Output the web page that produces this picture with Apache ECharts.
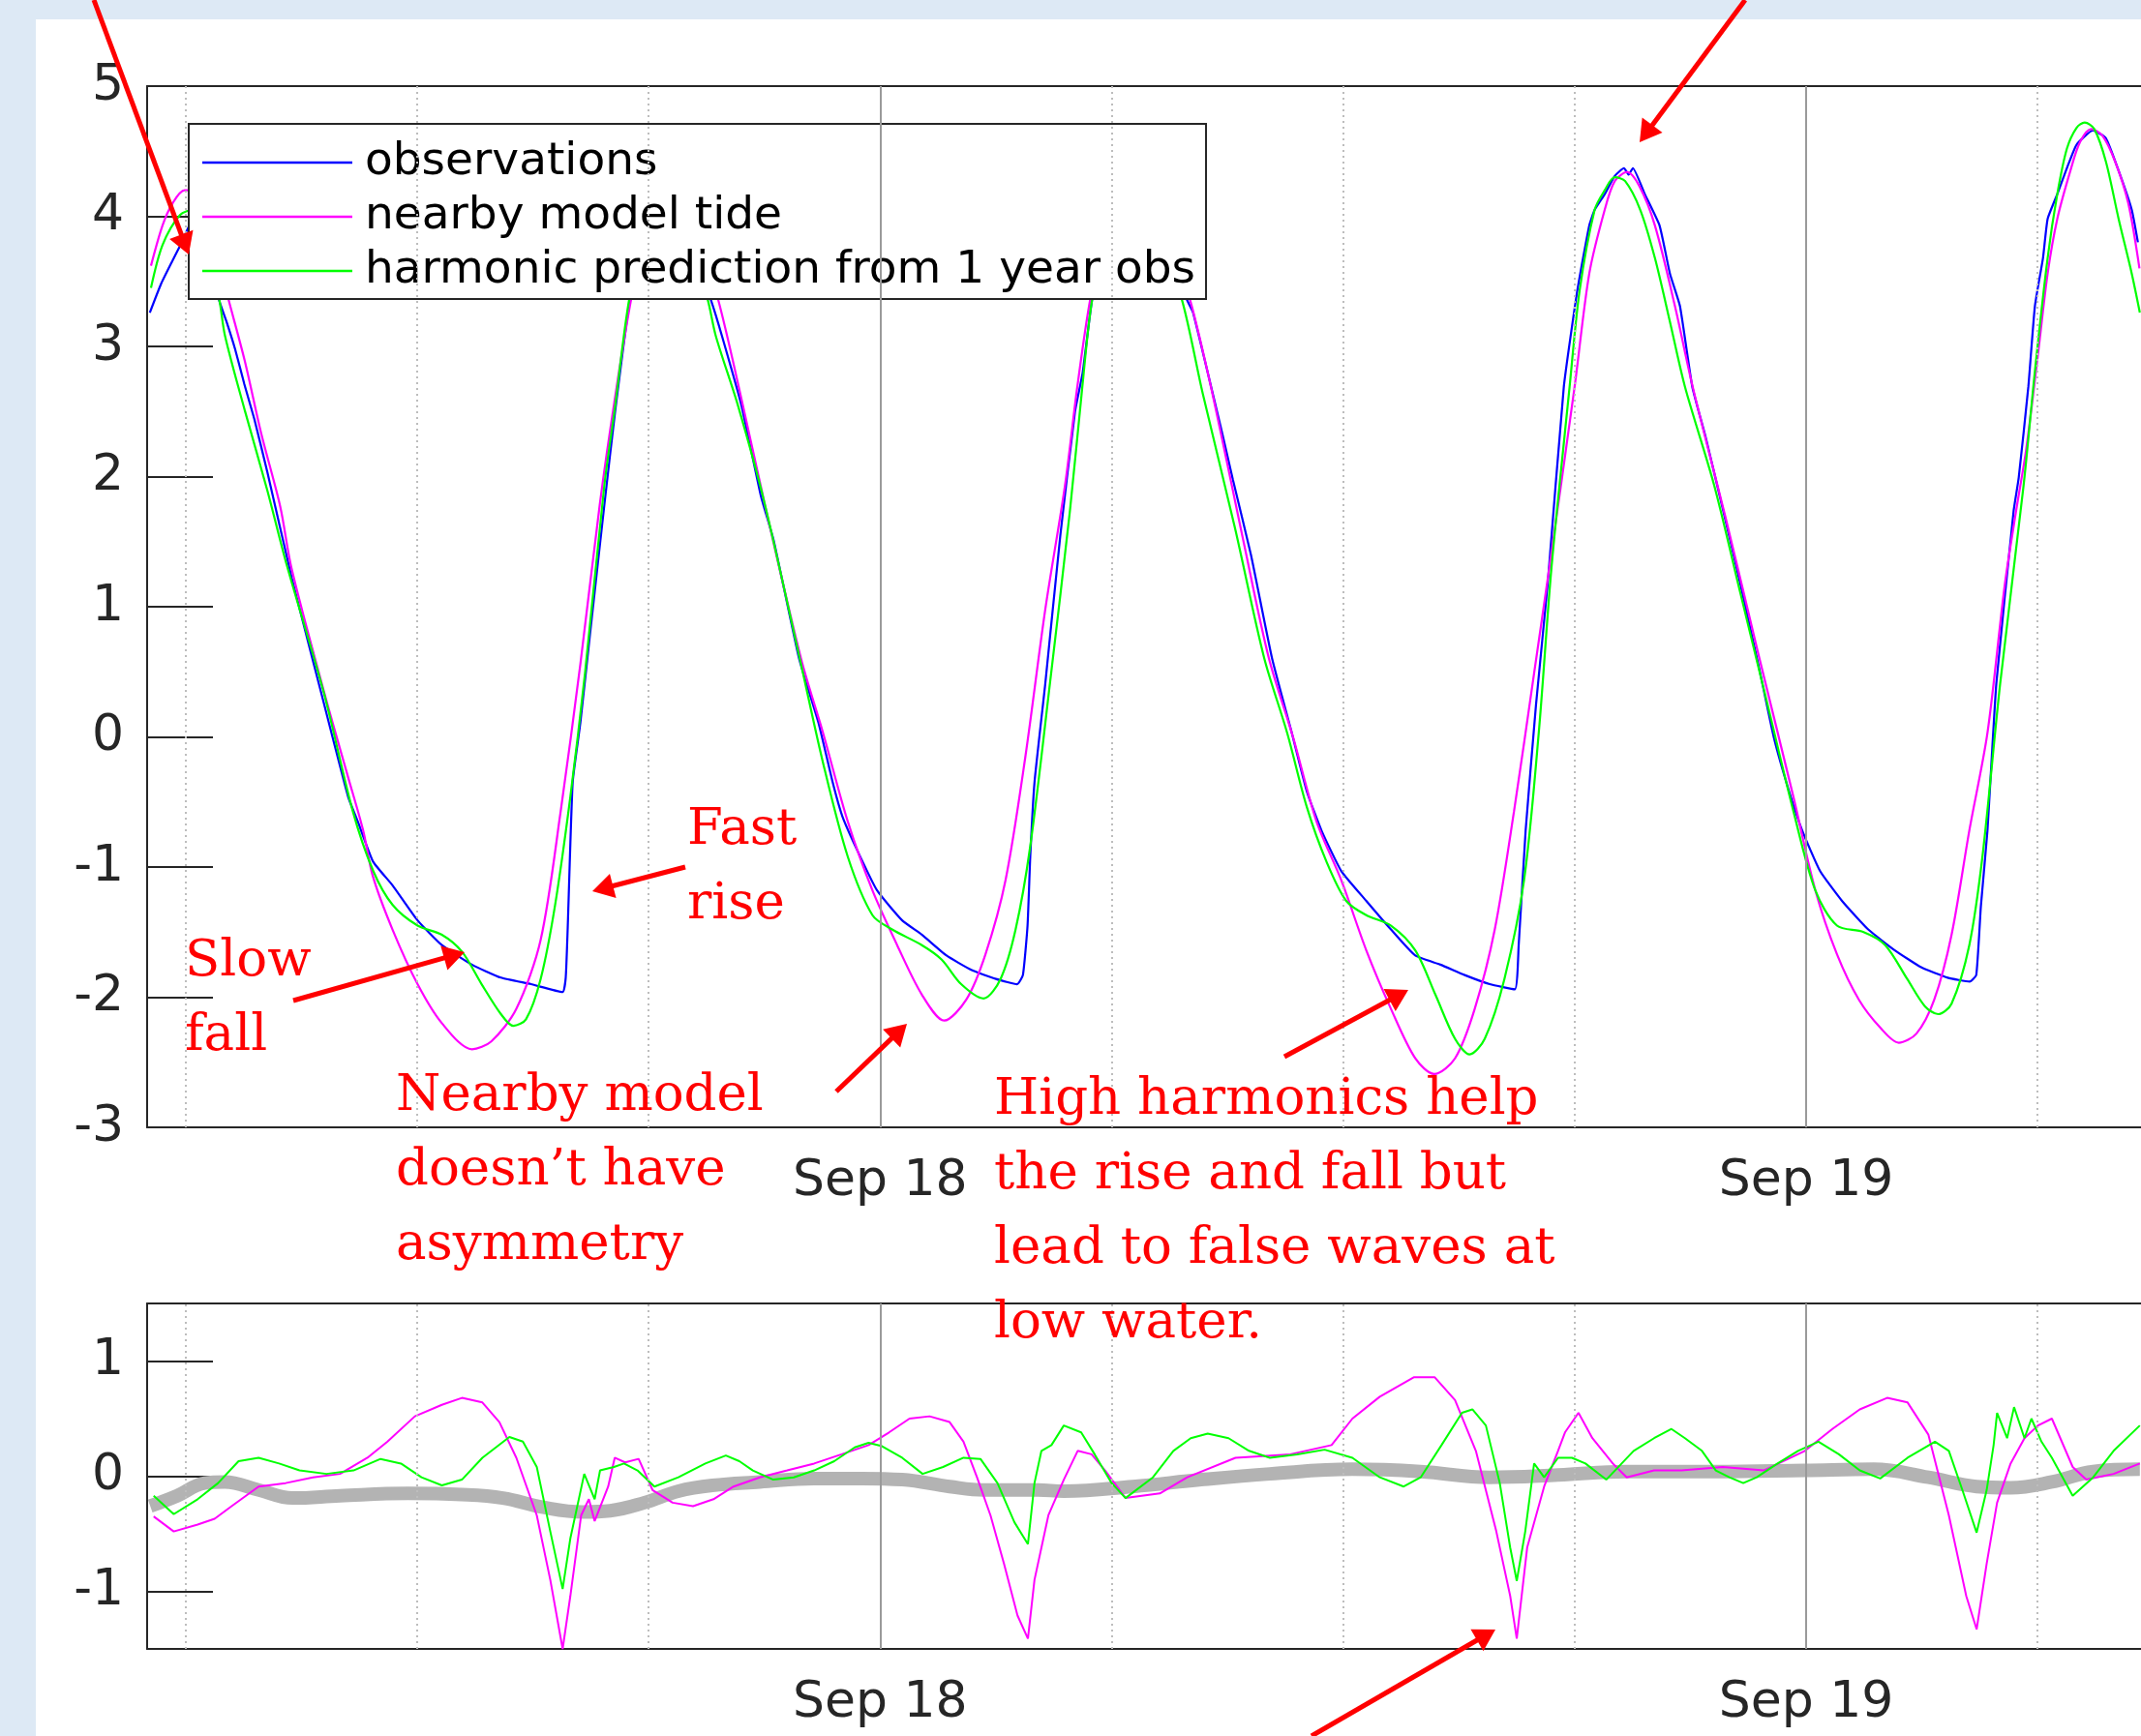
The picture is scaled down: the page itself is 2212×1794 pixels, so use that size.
<!DOCTYPE html>
<html><head><meta charset="utf-8">
<script src="https://cdn.jsdelivr.net/npm/echarts@6/dist/echarts.min.js"></script>
<style>html,body{margin:0;padding:0;background:#fff}#c{width:2212px;height:1794px}</style>
</head><body><div id="c"></div>
<script>
// x values: hours since Sep 17 00:00
const xTickValues = [24, 48];
const xTickLabels = ['Sep 18', 'Sep 19'];
const minorGridHours = [6, 12, 18, 30, 36, 42, 54];
const majorGridHours = [24, 48];
const topYTicks = [-3, -2, -1, 0, 1, 2, 3, 4, 5];
const bottomYTicks = [-1, 0, 1];
const seriesNames = ['observations', 'nearby model tide', 'harmonic prediction from 1 year obs'];

const obsTop = [[5.07,3.26],[5.36,3.48],[5.66,3.66],[5.9,3.8],[6.15,3.95],[6.45,3.9],[6.7,3.6],[6.86,3.36],[7.07,3.18],[7.28,2.98],[7.52,2.71],[7.78,2.44],[8.12,2.03],[8.75,1.22],[9.58,0.26],[10.21,-0.46],[10.46,-0.65],[10.86,-0.96],[11.36,-1.14],[12.01,-1.41],[12.64,-1.6],[13.42,-1.75],[14.17,-1.85],[14.95,-1.9],[15.77,-1.96],[15.85,-1.85],[15.9,-1.48],[16.03,-0.35],[16.23,0.11],[16.48,0.79],[16.85,1.78],[17.13,2.5],[17.52,3.37],[17.9,3.9],[18.4,4.1],[18.9,3.95],[19.3,3.6],[19.61,3.36],[19.9,3.08],[20.41,2.54],[20.91,1.85],[21.24,1.51],[21.9,0.6],[22.4,0.11],[22.77,-0.35],[23.02,-0.61],[23.42,-0.88],[23.92,-1.18],[24.57,-1.41],[25.08,-1.52],[25.72,-1.68],[26.36,-1.79],[27.0,-1.86],[27.55,-1.9],[27.7,-1.83],[27.82,-1.45],[27.89,-0.92],[28.0,-0.35],[28.28,0.41],[28.67,1.55],[29.05,2.5],[29.25,2.8],[29.5,3.37],[30.0,3.95],[30.6,4.15],[31.1,4.05],[31.6,3.7],[31.95,3.36],[32.11,3.26],[32.86,2.34],[33.14,1.98],[33.61,1.4],[34.16,0.6],[34.67,0.03],[35.06,-0.42],[35.44,-0.72],[35.95,-1.03],[36.6,-1.26],[37.24,-1.48],[37.87,-1.68],[38.52,-1.75],[39.15,-1.83],[39.8,-1.9],[40.45,-1.94],[40.55,-1.6],[40.73,-0.72],[41.0,0.25],[41.3,1.17],[41.72,2.69],[42.07,3.43],[42.38,3.93],[42.52,4.05],[42.78,4.17],[43.04,4.31],[43.28,4.37],[43.4,4.32],[43.51,4.37],[43.82,4.17],[44.2,3.93],[44.47,3.56],[44.73,3.31],[45.05,2.69],[45.39,2.31],[45.85,1.74],[46.3,1.17],[46.76,0.56],[47.16,0.0],[47.56,-0.42],[47.9,-0.72],[48.36,-1.03],[48.93,-1.26],[49.61,-1.48],[50.3,-1.64],[50.98,-1.77],[51.67,-1.85],[52.24,-1.88],[52.41,-1.83],[52.53,-1.3],[52.7,-0.72],[52.93,0.41],[53.38,1.74],[53.51,1.99],[53.76,2.69],[53.93,3.31],[54.14,3.68],[54.26,3.98],[54.51,4.17],[54.76,4.37],[55.01,4.55],[55.43,4.66],[55.77,4.6],[56.1,4.35],[56.44,4.05],[56.6,3.8]];

const modelTop = [[5.1,3.62],[5.4,3.93],[5.66,4.1],[5.97,4.2],[6.3,4.2],[6.6,3.95],[6.9,3.6],[7.11,3.36],[7.53,2.89],[7.95,2.34],[8.45,1.77],[8.74,1.3],[9.6,0.33],[10.2,-0.3],[10.6,-0.72],[10.85,-1.07],[11.36,-1.48],[12.01,-1.9],[12.64,-2.2],[13.42,-2.4],[13.92,-2.34],[14.57,-2.09],[15.2,-1.56],[15.72,-0.57],[16.23,0.56],[16.73,1.78],[17.13,2.61],[17.55,3.37],[18.0,3.95],[18.5,4.15],[19.0,4.0],[19.45,3.65],[19.8,3.36],[20.41,2.59],[21.0,1.8],[21.95,0.6],[22.52,0.03],[23.16,-0.65],[23.8,-1.18],[24.44,-1.6],[25.08,-1.98],[25.66,-2.18],[26.23,-2.02],[26.73,-1.67],[27.25,-1.1],[27.76,-0.16],[28.28,0.98],[28.79,1.93],[29.11,2.69],[29.45,3.37],[29.9,3.95],[30.5,4.15],[31.1,4.05],[31.6,3.7],[32.03,3.36],[32.61,2.64],[33.44,1.47],[34.07,0.61],[34.7,0.0],[35.31,-0.65],[35.95,-1.1],[36.6,-1.64],[37.24,-2.09],[37.87,-2.47],[38.36,-2.59],[38.9,-2.47],[39.41,-2.09],[39.93,-1.48],[40.43,-0.57],[40.95,0.49],[41.32,1.25],[42.0,2.69],[42.38,3.56],[42.78,4.05],[43.04,4.27],[43.36,4.34],[43.68,4.23],[44.08,3.93],[44.6,3.31],[45.06,2.69],[45.9,1.7],[46.76,0.64],[47.67,-0.46],[48.24,-1.18],[48.8,-1.67],[49.37,-2.02],[49.94,-2.24],[50.4,-2.35],[50.86,-2.28],[51.32,-2.02],[51.77,-1.52],[52.23,-0.72],[52.7,0.03],[53.15,1.17],[53.45,1.75],[53.7,2.2],[54.01,2.94],[54.26,3.56],[54.51,3.98],[54.85,4.35],[55.1,4.57],[55.39,4.67],[55.68,4.62],[56.01,4.42],[56.35,4.1],[56.64,3.6]];

const harmTop = [[5.1,3.45],[5.4,3.78],[5.85,4.01],[6.2,4.05],[6.5,3.85],[6.87,3.36],[7.02,3.08],[7.53,2.51],[8.11,1.9],[8.62,1.32],[9.58,0.34],[10.33,-0.57],[10.86,-1.03],[11.36,-1.29],[12.01,-1.45],[12.64,-1.52],[13.16,-1.65],[13.67,-1.9],[14.17,-2.13],[14.49,-2.22],[14.82,-2.17],[15.2,-1.86],[15.57,-1.3],[15.97,-0.46],[16.35,0.49],[16.85,1.93],[17.13,2.54],[17.5,3.37],[18.0,4.0],[18.4,4.1],[18.9,3.9],[19.25,3.6],[19.53,3.36],[19.74,3.08],[20.32,2.54],[21.0,1.8],[21.91,0.61],[22.52,-0.2],[23.16,-0.92],[23.8,-1.37],[24.31,-1.48],[25.08,-1.6],[25.59,-1.71],[26.1,-1.9],[26.68,-2.01],[27.12,-1.86],[27.51,-1.48],[27.89,-0.84],[28.4,0.41],[28.92,1.74],[29.24,2.69],[29.5,3.37],[30.0,4.0],[30.5,4.1],[31.0,3.9],[31.45,3.6],[31.82,3.36],[32.36,2.64],[33.2,1.6],[33.95,0.61],[34.55,0.03],[35.06,-0.54],[35.57,-0.96],[36.08,-1.26],[36.6,-1.37],[37.24,-1.45],[37.87,-1.64],[38.39,-1.98],[38.9,-2.32],[39.28,-2.44],[39.67,-2.32],[40.18,-1.86],[40.69,-1.1],[41.07,0.03],[41.4,1.3],[41.87,2.69],[42.13,3.43],[42.52,4.05],[42.78,4.2],[43.04,4.3],[43.31,4.27],[43.7,4.05],[44.08,3.68],[44.47,3.19],[44.86,2.69],[45.62,1.93],[46.3,1.1],[46.99,0.26],[47.67,-0.57],[48.24,-1.18],[48.8,-1.45],[49.49,-1.5],[50.05,-1.6],[50.62,-1.86],[51.08,-2.07],[51.42,-2.13],[51.77,-2.05],[52.23,-1.6],[52.57,-0.92],[53.03,0.41],[53.64,1.94],[53.93,2.81],[54.26,3.68],[54.51,4.17],[54.76,4.52],[55.01,4.68],[55.22,4.72],[55.47,4.67],[55.77,4.42],[56.1,3.98],[56.44,3.56],[56.65,3.26]];

const modelResid = [[5.17,-0.35],[5.69,-0.48],[6.31,-0.42],[6.75,-0.37],[7.19,-0.26],[7.89,-0.09],[8.59,-0.06],[9.3,-0.01],[10.0,0.02],[10.71,0.16],[11.23,0.3],[11.94,0.52],[12.64,0.62],[13.16,0.68],[13.69,0.64],[14.13,0.47],[14.57,0.16],[15.1,-0.34],[15.45,-0.9],[15.77,-1.5],[15.97,-1.04],[16.25,-0.34],[16.45,-0.2],[16.6,-0.39],[16.95,-0.09],[17.12,0.16],[17.39,0.12],[17.74,0.15],[18.1,-0.12],[18.62,-0.23],[19.15,-0.26],[19.68,-0.2],[20.2,-0.09],[20.88,-0.01],[21.59,0.05],[22.29,0.11],[23.0,0.19],[23.7,0.27],[24.23,0.38],[24.76,0.5],[25.28,0.52],[25.8,0.47],[26.16,0.3],[26.51,-0.01],[26.86,-0.34],[27.21,-0.76],[27.56,-1.21],[27.83,-1.41],[28.0,-0.9],[28.36,-0.34],[28.76,-0.03],[29.12,0.22],[29.48,0.19],[29.83,0.05],[30.36,-0.19],[31.25,-0.15],[31.96,-0.01],[33.21,0.16],[34.63,0.19],[35.7,0.27],[36.24,0.5],[36.95,0.69],[37.84,0.86],[38.37,0.86],[38.9,0.66],[39.44,0.22],[39.97,-0.48],[40.33,-1.04],[40.5,-1.41],[40.77,-0.62],[41.21,-0.09],[41.57,0.22],[41.75,0.38],[42.1,0.55],[42.46,0.33],[42.99,0.11],[43.35,-0.01],[44.06,0.05],[44.77,0.05],[45.84,0.08],[46.9,0.05],[47.97,0.22],[48.68,0.41],[49.39,0.58],[50.1,0.68],[50.63,0.64],[51.17,0.36],[51.7,-0.34],[52.15,-1.04],[52.42,-1.33],[52.68,-0.76],[52.95,-0.23],[53.3,0.11],[53.66,0.33],[54.01,0.44],[54.37,0.5],[54.91,0.08],[55.26,-0.03],[55.97,0.02],[56.65,0.11]];

const harmResid = [[5.17,-0.17],[5.69,-0.33],[6.31,-0.2],[6.84,-0.06],[7.37,0.13],[7.89,0.16],[8.42,0.11],[8.95,0.05],[9.65,0.02],[10.35,0.05],[11.05,0.15],[11.58,0.11],[12.11,-0.01],[12.64,-0.08],[13.16,-0.03],[13.69,0.16],[14.39,0.34],[14.74,0.3],[15.1,0.08],[15.45,-0.48],[15.77,-0.98],[15.97,-0.54],[16.33,0.02],[16.6,-0.2],[16.74,0.05],[17.1,0.08],[17.36,0.11],[17.71,0.05],[18.15,-0.09],[18.77,-0.01],[19.47,0.11],[20.0,0.18],[20.35,0.13],[20.7,0.05],[21.23,-0.03],[21.76,-0.01],[22.29,0.05],[22.81,0.13],[23.34,0.25],[23.7,0.29],[24.05,0.26],[24.57,0.16],[25.1,0.02],[25.63,0.08],[26.16,0.16],[26.6,0.15],[27.04,-0.06],[27.48,-0.4],[27.83,-0.59],[28.0,-0.06],[28.18,0.22],[28.44,0.27],[28.76,0.44],[29.21,0.38],[29.56,0.19],[30.0,-0.06],[30.36,-0.19],[31.07,-0.01],[31.6,0.22],[32.05,0.33],[32.49,0.37],[33.03,0.33],[33.56,0.22],[34.1,0.16],[34.81,0.19],[35.52,0.23],[36.24,0.16],[36.95,-0.01],[37.57,-0.09],[38.01,-0.01],[38.55,0.27],[39.08,0.55],[39.35,0.58],[39.7,0.44],[40.06,-0.06],[40.33,-0.62],[40.5,-0.91],[40.72,-0.48],[40.95,0.11],[41.21,-0.01],[41.57,0.16],[41.93,0.16],[42.28,0.11],[42.82,-0.03],[43.53,0.22],[44.06,0.33],[44.51,0.41],[44.86,0.33],[45.3,0.22],[45.66,0.05],[46.01,-0.01],[46.37,-0.06],[46.72,-0.01],[47.26,0.11],[47.79,0.22],[48.32,0.3],[48.85,0.19],[49.39,0.05],[49.92,-0.02],[50.63,0.16],[51.34,0.3],[51.7,0.22],[52.05,-0.12],[52.42,-0.49],[52.68,-0.12],[52.86,0.27],[52.95,0.55],[53.21,0.33],[53.39,0.6],[53.66,0.33],[53.84,0.5],[54.1,0.3],[54.37,0.16],[54.91,-0.17],[55.44,-0.01],[55.97,0.22],[56.65,0.44]];

const surgeResid = [[5.08,-0.26],[5.78,-0.17],[6.49,-0.06],[7.01,-0.05],[7.89,-0.12],[8.77,-0.19],[10.0,-0.17],[11.76,-0.15],[13.16,-0.16],[14.22,-0.19],[15.27,-0.27],[16.3,-0.31],[17.0,-0.3],[17.89,-0.23],[18.77,-0.13],[19.65,-0.08],[20.88,-0.05],[22.29,-0.02],[23.52,-0.02],[24.57,-0.03],[25.8,-0.09],[26.69,-0.12],[28.09,-0.12],[28.76,-0.13],[30.55,-0.09],[32.32,-0.03],[34.1,0.02],[36.24,0.06],[38.01,0.04],[39.79,-0.01],[41.57,0.01],[43.35,0.04],[45.66,0.04],[47.97,0.05],[49.75,0.06],[51.17,-0.01],[52.42,-0.09],[53.3,-0.1],[54.37,-0.05],[55.44,0.04],[56.65,0.06]];

// annotation texts and arrows (page pixels)
const noteBlocks = [
  {x: 191, base: 1013, lines: ['Slow', 'fall']},
  {x: 710, base: 877, lines: ['Fast', 'rise']},
  {x: 409, base: 1152, lines: ['Nearby model', 'doesn\u2019t have', 'asymmetry']},
  {x: 1027, base: 1156, lines: ['High harmonics help', 'the rise and fall but', 'lead to false waves at', 'low water.']}
];
const arrows = [
  [97, 0, 195, 263], [1803, 0, 1694, 147], [708, 896, 612, 921], [303, 1034, 480, 984],
  [864, 1128, 937, 1058], [1327, 1092, 1455, 1023], [1355, 1794, 1545, 1684]
];

const AX = '#262626';
const FONT = 'DejaVu Sans';
const X_MIN = 5, X_MAX = 56.68;
const GRID_LEFT = 152;

function xAxisDef(gridIndex, pos, labels) {
  return {
    type: 'value', gridIndex, position: pos, min: X_MIN, max: X_MAX,
    axisLine: {show: true, onZero: false, lineStyle: {color: AX, width: 2}},
    axisTick: {show: true, inside: true, length: 64, customValues: xTickValues, lineStyle: {color: AX, width: 2}},
    axisLabel: labels ? {show: true, customValues: xTickValues, margin: 30, fontSize: 52, fontFamily: FONT, color: AX,
      formatter: v => xTickLabels[xTickValues.indexOf(v)] || ''} : {show: false},
    splitLine: {show: false}
  };
}
function yAxisDef(gridIndex, min, max, ticks) {
  return {
    type: 'value', gridIndex, min, max, position: 'left',
    axisLine: {show: true, onZero: false, lineStyle: {color: AX, width: 2}},
    axisTick: {show: true, inside: true, length: 68, customValues: ticks, lineStyle: {color: AX, width: 2}},
    axisLabel: {show: true, customValues: ticks, margin: 24, fontSize: 52, fontFamily: FONT, color: AX, padding: [14, 0, 0, 0]},
    splitLine: {show: false}
  };
}
function gridLines(xi, yi) {
  return {
    type: 'line', data: [], xAxisIndex: xi, yAxisIndex: yi, z: 1, silent: true,
    markLine: {
      silent: true, symbol: ['none', 'none'], label: {show: false}, animation: false,
      data: minorGridHours.map(h => ({xAxis: h, lineStyle: {color: '#bdbdbd', type: [2, 4], width: 2}}))
        .concat(majorGridHours.map(h => ({xAxis: h, lineStyle: {color: '#9a9a9a', type: 'solid', width: 2}})))
    }
  };
}
function lineSeries(name, data, xi, yi, color, width, smooth, z) {
  return {type: 'line', name, data, xAxisIndex: xi, yAxisIndex: yi, symbol: 'none', showSymbol: false, smooth,
    lineStyle: {color, width}, itemStyle: {color}, z, animation: false};
}

const graphics = [
  {type: 'rect', shape: {x: 0, y: 0, width: 2212, height: 20}, style: {fill: '#dde9f5'}, z: 0},
  {type: 'rect', shape: {x: 0, y: 0, width: 37, height: 1794}, style: {fill: '#dde9f5'}, z: 0}
];
noteBlocks.forEach(b => {
  graphics.push({type: 'text', x: b.x, y: b.base - 57, z: 100,
    style: {text: b.lines.join('\n'), fill: '#ff0000', font: '53px "DejaVu Serif"', lineHeight: 77, verticalAlign: 'top', align: 'left'}});
});
arrows.forEach(a => {
  const [x1, y1, x2, y2] = a;
  const dx = x2 - x1, dy = y2 - y1, L = Math.hypot(dx, dy), ux = dx / L, uy = dy / L;
  const hl = 22, hw = 13, bx = x2 - ux * hl, by = y2 - uy * hl;
  graphics.push({type: 'line', z: 100, shape: {x1, y1, x2: bx + ux * 3, y2: by + uy * 3}, style: {stroke: '#ff0000', lineWidth: 5}});
  graphics.push({type: 'polygon', z: 100, shape: {points: [[x2, y2], [bx - uy * hw, by + ux * hw], [bx + uy * hw, by - ux * hw]]}, style: {fill: '#ff0000'}});
});

const chart = echarts.init(document.getElementById('c'), null, {renderer: 'canvas', width: 2212, height: 1794});
chart.setOption({
  backgroundColor: '#ffffff',
  animation: false,
  grid: [
    {left: GRID_LEFT, top: 89, right: 0, height: 1076},
    {left: GRID_LEFT, top: 1347, right: 0, height: 357}
  ],
  xAxis: [xAxisDef(0, 'bottom', true), xAxisDef(0, 'top', false), xAxisDef(1, 'bottom', true), xAxisDef(1, 'top', false)],
  yAxis: [yAxisDef(0, -3, 5, topYTicks), yAxisDef(1, -1.5, 1.5, bottomYTicks)],
  legend: {
    data: seriesNames, left: 195, top: 128, orient: 'vertical', icon: 'rect',
    backgroundColor: '#ffffff', borderColor: AX, borderWidth: 2, padding: [15, 11, 4, 14],
    itemWidth: 155, itemHeight: 2.4, itemGap: 6,
    textStyle: {fontSize: 47, fontFamily: FONT, color: '#000', lineHeight: 50, padding: [0, 0, 0, 8]},
    selectedMode: false
  },
  series: [
    gridLines(0, 0), gridLines(2, 1),
    lineSeries(seriesNames[0], obsTop, 0, 0, '#0000ff', 2.2, 0.15, 3),
    lineSeries(seriesNames[1], modelTop, 0, 0, '#ff00ff', 2.2, 0.3, 3),
    lineSeries(seriesNames[2], harmTop, 0, 0, '#00ff00', 2.2, 0.3, 3),
    lineSeries('low-passed residual', surgeResid, 2, 1, '#b3b3b3', 14, 0.4, 2),
    lineSeries(seriesNames[1], modelResid, 2, 1, '#ff00ff', 2, false, 3),
    lineSeries(seriesNames[2], harmResid, 2, 1, '#00ff00', 2, false, 3)
  ],
  graphic: graphics
});
</script>
</body></html>
